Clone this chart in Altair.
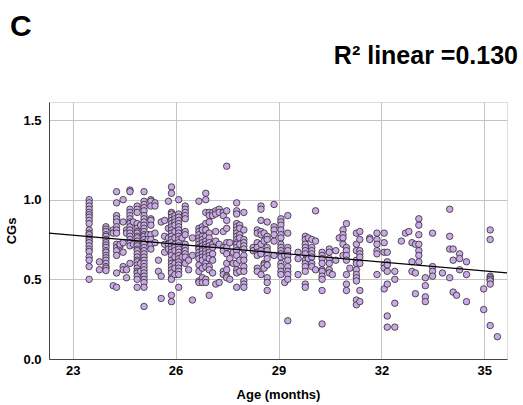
import altair as alt
import pandas as pd

# Age (months) of each vertical column of points, and the CGs values in that column
column_ages = [
    23.48, 23.78, 23.97, 24.18, 24.28, 24.38, 24.47, 24.57, 24.67, 24.77,
    24.88, 24.98, 25.08, 25.20, 25.28, 25.40, 25.50, 25.58, 25.68, 25.79,
    25.88, 25.98, 26.09, 26.19, 26.28, 26.38, 26.49, 26.68, 26.78, 26.88,
    26.98, 27.08, 27.17, 27.27, 27.39, 27.49, 27.58, 27.68, 27.78, 27.87,
    27.99, 28.26, 28.38, 28.49, 28.58, 28.67, 28.87, 29.07, 29.18, 29.27,
    29.57, 29.78, 29.87, 29.97, 30.08, 30.27, 30.48, 30.57, 30.67, 30.77,
    30.88, 30.98, 31.08, 31.27, 31.37, 31.66, 31.87, 32.08, 32.17, 32.39,
    32.58, 32.70, 32.80, 32.89, 32.99, 33.09, 33.28, 33.49, 33.78, 33.99,
    34.09, 34.19, 34.28, 34.48, 34.98, 35.17, 35.38,
]
column_values = [
    [1.00, 0.98, 0.96, 0.94, 0.92, 0.905, 0.89, 0.87, 0.85, 0.81, 0.79, 0.78, 0.76, 0.745, 0.73, 0.71, 0.69, 0.675, 0.64, 0.62, 0.58, 0.50],
    [0.61, 0.56],
    [0.83, 0.815, 0.80, 0.78, 0.77, 0.75, 0.73, 0.715, 0.70, 0.68, 0.67, 0.65, 0.635, 0.62, 0.60, 0.58, 0.57, 0.555],
    [0.81, 0.79, 0.46],
    [1.05, 0.98, 0.90, 0.88, 0.86, 0.83, 0.81, 0.79, 0.72, 0.70, 0.68, 0.65, 0.54, 0.45],
    [0.71, 0.72],
    [1.00, 0.86, 0.73, 0.67, 0.58, 0.56],
    [0.81, 0.79, 0.56, 0.51],
    [1.06, 1.05, 0.94, 0.92, 0.90, 0.88, 0.86, 0.85, 0.83, 0.81, 0.79, 0.77, 0.75, 0.73, 0.71, 0.60],
    [0.86, 0.72],
    [0.96, 0.94, 0.92, 0.85, 0.82, 0.80, 0.79, 0.77, 0.76, 0.74, 0.72, 0.71, 0.69, 0.68, 0.66, 0.64, 0.62, 0.61, 0.59, 0.57, 0.55, 0.54, 0.52, 0.50, 0.45],
    [0.84, 0.60, 0.55],
    [1.05, 0.99, 0.97, 0.95, 0.93, 0.90, 0.88, 0.86, 0.84, 0.82, 0.80, 0.78, 0.77, 0.75, 0.73, 0.72, 0.70, 0.68, 0.66, 0.64, 0.62, 0.60, 0.58, 0.56, 0.54, 0.52, 0.50, 0.48, 0.45, 0.33],
    [0.78, 0.75],
    [1.00, 0.99, 0.96, 0.88, 0.87, 0.84, 0.78, 0.75, 0.72, 0.69],
    [0.98, 0.96, 0.79, 0.73],
    [0.62, 0.55],
    [0.86, 0.52, 0.38],
    [0.87, 0.77, 0.67, 0.72],
    [0.99, 0.82, 0.76, 0.72, 0.69],
    [1.08, 1.04, 0.92, 0.91, 0.89, 0.87, 0.85, 0.83, 0.81, 0.79, 0.77, 0.75, 0.73, 0.71, 0.69, 0.67, 0.65, 0.62, 0.60, 0.58, 0.56, 0.54, 0.51, 0.50, 0.40, 0.36],
    [0.90, 0.88, 0.86, 0.84, 0.80, 0.76, 0.72, 0.70, 0.68, 0.64, 0.60, 0.57, 0.53],
    [1.00, 0.91, 0.89, 0.87, 0.85, 0.83, 0.81, 0.79, 0.77, 0.75, 0.73, 0.71, 0.69, 0.67, 0.65, 0.63, 0.61, 0.59, 0.57, 0.55, 0.53, 0.45],
    [0.76, 0.64],
    [0.96, 0.94, 0.92, 0.90, 0.88, 0.80, 0.78, 0.72, 0.70, 0.68, 0.66, 0.64, 0.60],
    [0.62, 0.56],
    [0.76, 0.65, 0.37],
    [0.99, 0.82, 0.80, 0.78, 0.76, 0.74, 0.72, 0.70, 0.69, 0.67, 0.65, 0.63, 0.59, 0.55, 0.49, 0.48],
    [0.83, 0.81, 0.77, 0.75, 0.73, 0.71, 0.69, 0.68, 0.66, 0.64, 0.62, 0.57, 0.51, 0.48],
    [1.04, 1.00, 0.92, 0.85, 0.81, 0.77, 0.74, 0.72, 0.70, 0.68, 0.66, 0.64, 0.60, 0.58, 0.50, 0.48],
    [0.92, 0.90, 0.86, 0.79, 0.76, 0.73, 0.71, 0.69, 0.67, 0.65, 0.63, 0.58, 0.56, 0.40],
    [0.92, 0.90, 0.72, 0.70, 0.66, 0.62, 0.54],
    [0.93, 0.91, 0.80, 0.74, 0.47],
    [0.94, 0.92, 0.72, 0.48],
    [0.92, 0.90, 0.80, 0.70, 0.68, 0.55, 0.53],
    [1.21, 0.93, 0.87, 0.82, 0.73, 0.70, 0.66, 0.60, 0.56, 0.52, 0.51],
    [0.73, 0.63, 0.50],
    [0.67, 0.60],
    [0.98, 0.93, 0.91, 0.85, 0.83, 0.81, 0.79, 0.77, 0.75, 0.73, 0.72, 0.70, 0.68, 0.65, 0.60, 0.56, 0.54, 0.45],
    [0.84, 0.82, 0.78, 0.76, 0.72, 0.62, 0.55],
    [0.92, 0.81, 0.75, 0.73, 0.71, 0.69, 0.65, 0.62, 0.58, 0.55, 0.49, 0.47, 0.45],
    [0.70, 0.68],
    [0.81, 0.79, 0.73, 0.70, 0.67, 0.65, 0.57, 0.55],
    [0.96, 0.94, 0.87, 0.80, 0.78, 0.72, 0.68, 0.66, 0.53],
    [0.79, 0.74, 0.60, 0.59, 0.57],
    [0.86, 0.77, 0.75, 0.70, 0.68, 0.65, 0.63, 0.59, 0.51, 0.48, 0.43],
    [0.97, 0.83, 0.81, 0.78, 0.74, 0.65],
    [0.88, 0.86, 0.84, 0.81, 0.78, 0.76, 0.72, 0.70, 0.68, 0.66, 0.64, 0.60, 0.58, 0.55, 0.53],
    [0.65, 0.48],
    [0.90, 0.79, 0.70, 0.68, 0.65, 0.62, 0.58, 0.55, 0.53, 0.50, 0.24],
    [0.67, 0.63, 0.53],
    [0.77, 0.75, 0.72, 0.70, 0.68, 0.66, 0.62, 0.60, 0.58, 0.55, 0.47, 0.45],
    [0.76, 0.63],
    [0.75, 0.70, 0.68, 0.66, 0.64, 0.60, 0.58],
    [0.93, 0.74, 0.56],
    [0.67, 0.65, 0.63, 0.60, 0.56, 0.55, 0.52, 0.50, 0.43, 0.22],
    [0.69, 0.67, 0.63, 0.60, 0.56, 0.54],
    [0.53],
    [0.68, 0.62],
    [0.76],
    [0.81, 0.78, 0.76, 0.72, 0.65],
    [0.85, 0.70, 0.68, 0.65, 0.62, 0.53, 0.47, 0.43],
    [0.57],
    [0.79, 0.72, 0.68, 0.62, 0.60, 0.56, 0.53, 0.51, 0.49, 0.37, 0.34],
    [0.80, 0.75, 0.68, 0.66, 0.64, 0.60, 0.43, 0.36],
    [0.76, 0.75],
    [0.79, 0.75, 0.72, 0.68, 0.66, 0.53],
    [0.79, 0.73, 0.67, 0.59, 0.57, 0.44],
    [0.67, 0.61, 0.59, 0.55, 0.47, 0.27, 0.20],
    [0.55, 0.50, 0.35, 0.20],
    [0.74],
    [0.79],
    [0.80],
    [0.73, 0.61, 0.55],
    [0.72, 0.54, 0.41],
    [0.88, 0.84, 0.78, 0.72, 0.68, 0.65, 0.61],
    [0.51, 0.46, 0.39, 0.36],
    [0.79, 0.58, 0.55, 0.52],
    [0.54],
    [0.94, 0.77, 0.69, 0.51],
    [0.69, 0.62, 0.42],
    [0.40],
    [0.66, 0.63, 0.56],
    [0.61, 0.53, 0.36],
    [0.44, 0.31],
    [0.81, 0.75, 0.52, 0.51, 0.50, 0.49, 0.47, 0.21],
    [0.14],
]

# Linear fit line (R² = 0.130), read at the plot edges
fit_ages = [22.31, 35.66]
fit_cgs = [0.79, 0.54]

x_ticks = [23, 26, 29, 32, 35]
y_ticks = [0.0, 0.5, 1.0, 1.5]

panel_letter = "C"
r2_label = "R² linear =0.130"

rows = []
for a, vals in zip(column_ages, column_values):
    for v in vals:
        rows.append({"age": a, "cgs": v})
points_df = pd.DataFrame(rows)
fit_df = pd.DataFrame({"age": fit_ages, "cgs": fit_cgs})

FONT = "Liberation Sans"

x_scale = alt.Scale(domain=[22.31, 35.66], nice=False, zero=False)
y_scale = alt.Scale(domain=[0, 1.613], nice=False)

x_axis = alt.Axis(
    title="Age (months)", values=x_ticks, format="d", grid=True,
    gridColor="#c4c4c4", gridWidth=1, ticks=False, labelPadding=5,
    labelFont=FONT, labelFontSize=13, labelFontWeight="bold", labelColor="#000",
    titleFont=FONT, titleFontSize=13, titleFontWeight="bold", titleColor="#000",
    titlePadding=11, domainColor="#444", domainWidth=1, labelFlush=False,
)
y_axis = alt.Axis(
    title="CGs", values=y_ticks, format=".1f", grid=True,
    gridColor="#c4c4c4", gridWidth=1, ticks=False, labelPadding=8,
    labelFont=FONT, labelFontSize=13, labelFontWeight="bold", labelColor="#000",
    titleFont=FONT, titleFontSize=13, titleFontWeight="bold", titleColor="#000",
    titlePadding=4, domainColor="#444", domainWidth=1,
)

points = alt.Chart(points_df).mark_point(
    shape="circle", filled=True, size=42, fill="#caa9e6",
    stroke="#2b2b2b", strokeWidth=0.8, opacity=1,
).encode(
    x=alt.X("age:Q", scale=x_scale, axis=x_axis),
    y=alt.Y("cgs:Q", scale=y_scale, axis=y_axis),
)

fit = alt.Chart(fit_df).mark_line(color="#000", strokeWidth=1.2, clip=True).encode(
    x=alt.X("age:Q", scale=x_scale),
    y=alt.Y("cgs:Q", scale=y_scale),
)

letter = alt.Chart(pd.DataFrame({"t": [panel_letter]})).mark_text(
    font=FONT, fontSize=30, fontWeight="bold", align="left", baseline="alphabetic", color="#000",
).encode(text="t:N", x=alt.value(-39), y=alt.value(-66))

r2 = alt.Chart(pd.DataFrame({"t": [r2_label]})).mark_text(
    font=FONT, fontSize=25, fontWeight="bold", align="right", baseline="alphabetic", color="#000",
).encode(text="t:N", x=alt.value(469), y=alt.value(-38))

chart = alt.layer(points, fit, letter, r2).properties(
    width=458, height=257,
    autosize=alt.AutoSizeParams(type="none"),
    padding={"left": 49, "top": 102, "right": 16, "bottom": 46},
).configure_view(stroke=None).configure(background="white")

chart.save("out.html", embed_options={"renderer": "svg", "actions": False})
